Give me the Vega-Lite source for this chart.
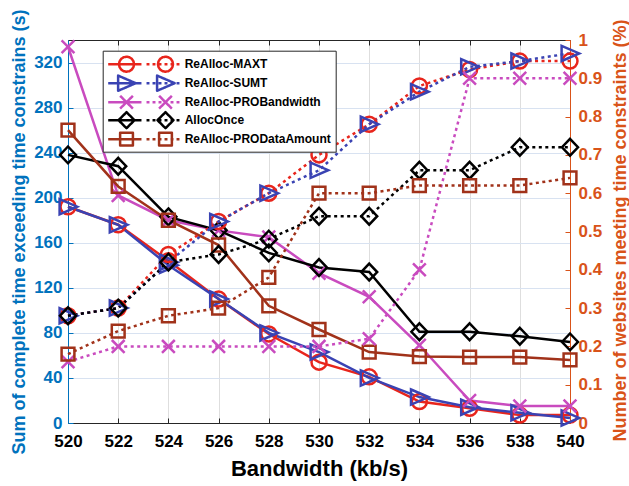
{
  "$schema": "https://vega.github.io/schema/vega-lite/v6.json",
  "width": 502,
  "height": 383,
  "autosize": {"type": "none"},
  "padding": {"left": 68, "top": 40, "right": 59, "bottom": 63},
  "config": {
    "font": "Liberation Sans",
    "view": {"stroke": null},
    "axis": {"labelFont": "Liberation Sans", "titleFont": "Liberation Sans", "labelFontWeight": "bold", "titleFontWeight": "bold"},
    "point": {"filled": false, "size": 256, "strokeWidth": 2.5, "opacity": 1}
  },
  "data": {
    "values": [
      {"s": "ReAlloc-MAXT", "x": 520, "t": 192, "p": 0.28},
      {"s": "ReAlloc-MAXT", "x": 522, "t": 176, "p": 0.30},
      {"s": "ReAlloc-MAXT", "x": 524, "t": 144, "p": 0.44},
      {"s": "ReAlloc-MAXT", "x": 526, "t": 110, "p": 0.526},
      {"s": "ReAlloc-MAXT", "x": 528, "t": 79, "p": 0.60},
      {"s": "ReAlloc-MAXT", "x": 530, "t": 54, "p": 0.70},
      {"s": "ReAlloc-MAXT", "x": 532, "t": 41, "p": 0.78},
      {"s": "ReAlloc-MAXT", "x": 534, "t": 19, "p": 0.88},
      {"s": "ReAlloc-MAXT", "x": 536, "t": 13, "p": 0.923},
      {"s": "ReAlloc-MAXT", "x": 538, "t": 7, "p": 0.945},
      {"s": "ReAlloc-MAXT", "x": 540, "t": 7, "p": 0.945},
      {"s": "ReAlloc-SUMT", "x": 520, "t": 192, "p": 0.28},
      {"s": "ReAlloc-SUMT", "x": 522, "t": 176, "p": 0.30},
      {"s": "ReAlloc-SUMT", "x": 524, "t": 140, "p": 0.42},
      {"s": "ReAlloc-SUMT", "x": 526, "t": 110, "p": 0.526},
      {"s": "ReAlloc-SUMT", "x": 528, "t": 80, "p": 0.60},
      {"s": "ReAlloc-SUMT", "x": 530, "t": 63, "p": 0.66},
      {"s": "ReAlloc-SUMT", "x": 532, "t": 40, "p": 0.78},
      {"s": "ReAlloc-SUMT", "x": 534, "t": 23, "p": 0.865},
      {"s": "ReAlloc-SUMT", "x": 536, "t": 14, "p": 0.93},
      {"s": "ReAlloc-SUMT", "x": 538, "t": 9, "p": 0.945},
      {"s": "ReAlloc-SUMT", "x": 540, "t": 4.5, "p": 0.965},
      {"s": "ReAlloc-PROBandwidth", "x": 520, "t": 334, "p": 0.16},
      {"s": "ReAlloc-PROBandwidth", "x": 522, "t": 202, "p": 0.20},
      {"s": "ReAlloc-PROBandwidth", "x": 524, "t": 180, "p": 0.20},
      {"s": "ReAlloc-PROBandwidth", "x": 526, "t": 171, "p": 0.20},
      {"s": "ReAlloc-PROBandwidth", "x": 528, "t": 165, "p": 0.20},
      {"s": "ReAlloc-PROBandwidth", "x": 530, "t": 133, "p": 0.20},
      {"s": "ReAlloc-PROBandwidth", "x": 532, "t": 112, "p": 0.22},
      {"s": "ReAlloc-PROBandwidth", "x": 534, "t": 69, "p": 0.40},
      {"s": "ReAlloc-PROBandwidth", "x": 536, "t": 20, "p": 0.90},
      {"s": "ReAlloc-PROBandwidth", "x": 538, "t": 15, "p": 0.90},
      {"s": "ReAlloc-PROBandwidth", "x": 540, "t": 15, "p": 0.90},
      {"s": "AllocOnce", "x": 520, "t": 238, "p": 0.28},
      {"s": "AllocOnce", "x": 522, "t": 228, "p": 0.30},
      {"s": "AllocOnce", "x": 524, "t": 183, "p": 0.42},
      {"s": "AllocOnce", "x": 526, "t": 171, "p": 0.44},
      {"s": "AllocOnce", "x": 528, "t": 151, "p": 0.48},
      {"s": "AllocOnce", "x": 530, "t": 138, "p": 0.54},
      {"s": "AllocOnce", "x": 532, "t": 134, "p": 0.54},
      {"s": "AllocOnce", "x": 534, "t": 81, "p": 0.66},
      {"s": "AllocOnce", "x": 536, "t": 81, "p": 0.66},
      {"s": "AllocOnce", "x": 538, "t": 77, "p": 0.72},
      {"s": "AllocOnce", "x": 540, "t": 72, "p": 0.72},
      {"s": "ReAlloc-PRODataAmount", "x": 520, "t": 260, "p": 0.18},
      {"s": "ReAlloc-PRODataAmount", "x": 522, "t": 210, "p": 0.24},
      {"s": "ReAlloc-PRODataAmount", "x": 524, "t": 180, "p": 0.28},
      {"s": "ReAlloc-PRODataAmount", "x": 526, "t": 158, "p": 0.30},
      {"s": "ReAlloc-PRODataAmount", "x": 528, "t": 104, "p": 0.38},
      {"s": "ReAlloc-PRODataAmount", "x": 530, "t": 83, "p": 0.60},
      {"s": "ReAlloc-PRODataAmount", "x": 532, "t": 63, "p": 0.60},
      {"s": "ReAlloc-PRODataAmount", "x": 534, "t": 59, "p": 0.62},
      {"s": "ReAlloc-PRODataAmount", "x": 536, "t": 58.5, "p": 0.62},
      {"s": "ReAlloc-PRODataAmount", "x": 538, "t": 58.5, "p": 0.62},
      {"s": "ReAlloc-PRODataAmount", "x": 540, "t": 56, "p": 0.64}
    ]
  },
  "encoding": {
    "color": {
      "field": "s",
      "type": "nominal",
      "sort": null,
      "scale": {
        "domain": ["ReAlloc-MAXT", "ReAlloc-SUMT", "ReAlloc-PROBandwidth", "AllocOnce", "ReAlloc-PRODataAmount"],
        "range": ["#e8251c", "#3a43b3", "#c94bbf", "#000000", "#a1321a"]
      },
      "legend": {
        "orient": "none",
        "legendX": 34.7,
        "legendY": 10.7,
        "title": null,
        "padding": 4,
        "strokeColor": "#262626",
        "fillColor": "white",
        "symbolSize": 256,
        "symbolStrokeWidth": 2.5,
        "symbolFillColor": "transparent",
        "labelOffset": 59,
        "rowPadding": -7,
        "labelFont": "Liberation Sans",
        "labelFontSize": 12,
        "labelFontWeight": "bold",
        "labelColor": "black",
        "labelLimit": 300,
        "encode": {
          "symbols": {
            "update": {
              "shape": {"signal": "datum.value==='ReAlloc-MAXT'?'M-1,0L3.16,0M2.23,0L2.159,0.36L1.955,0.665L1.65,0.869L1.29,0.94L0.93,0.869L0.625,0.665L0.421,0.36L0.35,0L0.421,-0.36L0.625,-0.665L0.93,-0.869L1.29,-0.94L1.65,-0.869L1.955,-0.665L2.159,-0.36ZM3.79,0L4.16,0M4.54,0L4.91,0M5.29,0L5.66,0M6.04,0L6.41,0M6.79,0L7.16,0M7.54,0L7.91,0M7.1,0L7.029,0.36L6.825,0.665L6.52,0.869L6.16,0.94L5.8,0.869L5.495,0.665L5.291,0.36L5.22,0L5.291,-0.36L5.495,-0.665L5.8,-0.869L6.16,-0.94L6.52,-0.869L6.825,-0.665L7.029,-0.36Z':datum.value==='ReAlloc-SUMT'?'M-1,0L3.16,0M0.24,-0.95L2.44,0L0.24,0.95ZM3.79,0L4.16,0M4.54,0L4.91,0M5.29,0L5.66,0M6.04,0L6.41,0M6.79,0L7.16,0M7.54,0L7.91,0M5.11,-0.95L7.31,0L5.11,0.95Z':datum.value==='ReAlloc-PROBandwidth'?'M-1,0L3.16,0M0.49,-0.8L2.09,0.8M0.49,0.8L2.09,-0.8M3.79,0L4.16,0M4.54,0L4.91,0M5.29,0L5.66,0M6.04,0L6.41,0M6.79,0L7.16,0M7.54,0L7.91,0M5.36,-0.8L6.96,0.8M5.36,0.8L6.96,-0.8':datum.value==='AllocOnce'?'M-1,0L3.16,0M1.29,-1.0L2.29,0L1.29,1.0L0.29,0ZM3.79,0L4.16,0M4.54,0L4.91,0M5.29,0L5.66,0M6.04,0L6.41,0M6.79,0L7.16,0M7.54,0L7.91,0M6.16,-1.0L7.16,0L6.16,1.0L5.16,0Z':'M-1,0L3.16,0M0.49,-0.8L2.09,-0.8L2.09,0.8L0.49,0.8ZM3.79,0L4.16,0M4.54,0L4.91,0M5.29,0L5.66,0M6.04,0L6.41,0M6.79,0L7.16,0M7.54,0L7.91,0M5.36,-0.8L6.96,-0.8L6.96,0.8L5.36,0.8Z'"},
              "fill": {"value": "transparent"},
              "strokeDash": {"value": [1, 0]},
              "strokeWidth": {"value": 2.5},
              "strokeJoin": {"value": "round"},
              "opacity": {"value": 1}
            }
          }
        }
      }
    }
  },
  "layer": [
    {
      "encoding": {
        "x": {
          "field": "x",
          "type": "quantitative",
          "scale": {"domain": [520, 540], "nice": false, "zero": false},
          "axis": {
            "orient": "bottom",
            "values": [520, 522, 524, 526, 528, 530, 532, 534, 536, 538, 540],
            "format": "d",
            "title": "Bandwidth (kb/s)",
            "titleFontSize": 22,
            "titleColor": "black",
            "titleX": 251,
            "titleY": 45,
            "titleBaseline": "middle",
            "labelFontSize": 17,
            "labelColor": "black",
            "labelPadding": 15,
            "labelFlush": false,
            "domainColor": "#262626",
            "tickColor": "#262626",
            "tickSize": -5,
            "grid": true,
            "gridColor": "#dedede"
          }
        },
        "y": {
          "field": "t",
          "type": "quantitative",
          "scale": {"domain": [0, 340], "nice": false},
          "axis": {
            "orient": "left",
            "values": [0, 40, 80, 120, 160, 200, 240, 280, 320],
            "title": "Sum of complete time exceeding time constrains (s)",
            "titleColor": "#0072BD",
            "titleFontSize": 18,
            "titleX": -49,
            "titleY": 191.5,
            "titleAngle": 270,
            "titleBaseline": "middle",
            "labelColor": "#0072BD",
            "labelFontSize": 17,
            "labelPadding": 11,
            "labelFlush": false,
            "domainColor": "#0072BD",
            "tickColor": "#0072BD",
            "tickSize": -5,
            "grid": true,
            "gridColor": "#d8e2f1"
          }
        }
      },
      "layer": [
        {"mark": {"type": "line", "strokeWidth": 2.5}},
        {"transform": [{"filter": {"field": "s", "equal": "ReAlloc-MAXT"}}], "mark": {"type": "point", "shape": "circle", "size": 225}},
        {"transform": [{"filter": {"field": "s", "equal": "ReAlloc-SUMT"}}], "mark": {"type": "point", "shape": "M-1.05,-0.95L1.15,0L-1.05,0.95Z"}},
        {"transform": [{"filter": {"field": "s", "equal": "ReAlloc-PROBandwidth"}}], "mark": {"type": "point", "shape": "M-0.8,-0.8L0.8,0.8M-0.8,0.8L0.8,-0.8"}},
        {"transform": [{"filter": {"field": "s", "equal": "AllocOnce"}}], "mark": {"type": "point", "shape": "M0,-1.05L1,0L0,1.05L-1,0Z"}},
        {"transform": [{"filter": {"field": "s", "equal": "ReAlloc-PRODataAmount"}}], "mark": {"type": "point", "shape": "M-0.8,-0.8L0.8,-0.8L0.8,0.8L-0.8,0.8Z"}}
      ]
    },
    {
      "encoding": {
        "x": {
          "field": "x",
          "type": "quantitative",
          "axis": {
            "orient": "top",
            "values": [520, 522, 524, 526, 528, 530, 532, 534, 536, 538, 540],
            "labels": false,
            "title": null,
            "domainColor": "#262626",
            "tickColor": "#262626",
            "tickSize": -5,
            "grid": false
          }
        },
        "y": {
          "field": "p",
          "type": "quantitative",
          "scale": {"domain": [0, 1], "nice": false},
          "axis": {
            "orient": "right",
            "values": [0, 0.1, 0.2, 0.3, 0.4, 0.5, 0.6, 0.7, 0.8, 0.9, 1],
            "format": ".1~f",
            "title": "Number of websites meeting time constraints (%)",
            "titleColor": "#D95319",
            "titleFontSize": 18,
            "titleX": 50,
            "titleY": 190,
            "titleAngle": 270,
            "titleBaseline": "middle",
            "labelColor": "#D95319",
            "labelFontSize": 17,
            "labelPadding": 13,
            "labelFlush": false,
            "domainColor": "#D95319",
            "tickColor": "#D95319",
            "tickSize": -5,
            "grid": false
          }
        }
      },
      "layer": [
        {"mark": {"type": "line", "strokeWidth": 2.5, "strokeDash": [3, 3.5]}},
        {"transform": [{"filter": {"field": "s", "equal": "ReAlloc-MAXT"}}], "mark": {"type": "point", "shape": "circle", "size": 225}},
        {"transform": [{"filter": {"field": "s", "equal": "ReAlloc-SUMT"}}], "mark": {"type": "point", "shape": "M-1.05,-0.95L1.15,0L-1.05,0.95Z"}},
        {"transform": [{"filter": {"field": "s", "equal": "ReAlloc-PROBandwidth"}}], "mark": {"type": "point", "shape": "M-0.8,-0.8L0.8,0.8M-0.8,0.8L0.8,-0.8"}},
        {"transform": [{"filter": {"field": "s", "equal": "AllocOnce"}}], "mark": {"type": "point", "shape": "M0,-1.05L1,0L0,1.05L-1,0Z"}},
        {"transform": [{"filter": {"field": "s", "equal": "ReAlloc-PRODataAmount"}}], "mark": {"type": "point", "shape": "M-0.8,-0.8L0.8,-0.8L0.8,0.8L-0.8,0.8Z"}}
      ]
    }
  ],
  "resolve": {"scale": {"y": "independent"}, "axis": {"x": "independent"}}
}
